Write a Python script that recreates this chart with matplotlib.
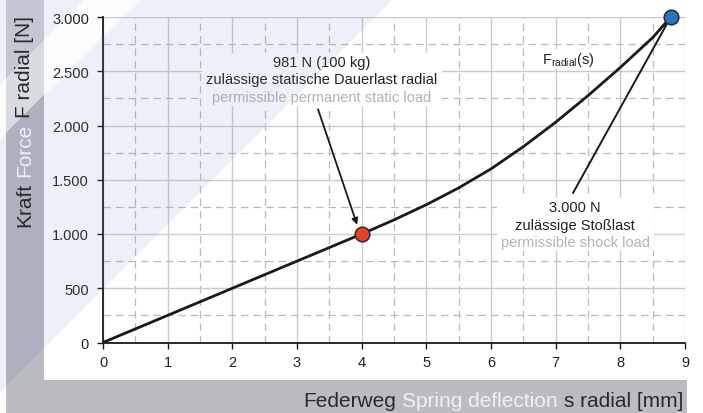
import matplotlib
matplotlib.use("Agg")
import matplotlib.pyplot as plt
from matplotlib.patches import Polygon, Rectangle
from matplotlib.path import Path
from matplotlib.transforms import Bbox
from matplotlib.ticker import FuncFormatter, MultipleLocator

plt.rcParams['font.family'] = ['Liberation Sans', 'DejaVu Sans']

# ---- data ----
s_vals = [0, 1, 2, 3, 4, 4.5, 5, 5.5, 6, 6.5, 7, 7.5, 8, 8.5, 8.78]
F_vals = [0, 250, 500, 750, 1000, 1130, 1270, 1425, 1600, 1805, 2030, 2275, 2535, 2810, 3000]
static_pt = (4.0, 1000)
shock_pt = (8.78, 3000)
x_ticks = [0, 1, 2, 3, 4, 5, 6, 7, 8, 9]
y_ticks = [0, 500, 1000, 1500, 2000, 2500, 3000]

W, H = 703, 414
fig = plt.figure(figsize=(W / 100, H / 100), dpi=100)
fig.patch.set_facecolor('white')

# ---- decorative background (pixel coordinates) ----
bg = fig.add_axes([0, 0, 1, 1], zorder=0)
bg.set_xlim(0, W)
bg.set_ylim(H, 0)
bg.axis('off')


def band(c1, c2, **kw):
    # region c1 < x + y < c2 (pixel coords)
    pts = [(c1 + 20, -20), (c2 + 20, -20), (c2 - 520, 520), (c1 - 520, 520)]
    return Polygon(pts, closed=True, lw=0, **kw)


strip_pts = [(6, 0), (44, 0), (44, 381), (687, 381), (687, 414), (6, 414)]
strip = Polygon(strip_pts, closed=True, fc='#bbbcc0', lw=0)
bg.add_patch(strip)
for c1, c2, col in [(-600, 85, '#c4c7d3'), (85, 140, '#d9dbe2'), (140, 393, '#adb0bf')]:
    p = band(c1, c2, fc=col)
    bg.add_patch(p)
    p.set_clip_path(strip)

# ---- main axes ----
ax = fig.add_axes([103 / W, 1 - 343.5 / H, 582 / W, 325.5 / H], zorder=2)
ax.set_facecolor('none')
ax.set_xlim(0, 9)
ax.set_ylim(0, 3000)
ax.set_xticks(x_ticks)
ax.set_yticks(y_ticks)
ax.xaxis.set_minor_locator(MultipleLocator(0.5))
ax.yaxis.set_minor_locator(MultipleLocator(250))
ax.yaxis.set_major_formatter(FuncFormatter(lambda v, p: f"{int(v):,}".replace(',', '.')))
ax.grid(which='major', color='#cbcbcb', lw=1.0, ls='-')
ax.grid(which='minor', color='#bababa', lw=0.9, ls=(0, (6, 4)))
ax.set_axisbelow(True)
for side in ['top', 'right']:
    ax.spines[side].set_visible(False)
for side in ['left', 'bottom']:
    ax.spines[side].set_color('#1a1a1a')
    ax.spines[side].set_linewidth(1.3)
ax.tick_params(which='major', direction='out', length=4, width=1, color='#1a1a1a',
               labelsize=10.5, labelcolor='#222222')
ax.tick_params(axis='x', which='major', pad=5)
ax.tick_params(axis='y', which='major', pad=6)
ax.tick_params(which='minor', length=0)

ax.plot(s_vals, F_vals, color='#1a1a1a', lw=2.0, solid_capstyle='round',
        solid_joinstyle='round', zorder=3)

fs = 10.5
dark = '#222222'
grey = '#b3b3b3'

blk1 = ('981 N (100 kg)', 'zulässige statische Dauerlast radial', 'permissible permanent static load')
blk2 = ('3.000 N', 'zulässige Stoßlast', 'permissible shock load')
texts1 = [
    ax.text(3.385, 2585, blk1[0], ha='center', va='center', fontsize=fs, color=dark, zorder=6),
    ax.text(3.385, 2425, blk1[1], ha='center', va='center', fontsize=fs, color=dark, zorder=6),
    ax.text(3.385, 2262, blk1[2], ha='center', va='center', fontsize=fs, color=grey, zorder=6),
]
texts2 = [
    ax.text(7.30, 1245, blk2[0], ha='center', va='center', fontsize=fs, color=dark, zorder=6),
    ax.text(7.30, 1080, blk2[1], ha='center', va='center', fontsize=fs, color=dark, zorder=6),
    ax.text(7.30, 922, blk2[2], ha='center', va='center', fontsize=fs, color=grey, zorder=6),
]
texts3 = [ax.text(6.79, 2610, r'F$_{\mathregular{radial}}$(s)', ha='left', va='center',
                  fontsize=fs, color=dark, zorder=6)]

# annotation lines
ax.annotate('', xy=(3.93, 1085), xytext=(3.325, 2150),
            arrowprops=dict(arrowstyle='-|>', mutation_scale=9, lw=1.3, color='#1a1a1a',
                            shrinkA=0, shrinkB=0), zorder=4)
ax.plot([7.27, shock_pt[0]], [1380, shock_pt[1]], color='#1a1a1a', lw=1.4, zorder=4)

ax.plot([static_pt[0]], [static_pt[1]], 'o', ms=10.5, mfc='#e8431d', mec='#2a2a2a', mew=1.1,
        zorder=5, clip_on=False)
ax.plot([shock_pt[0]], [shock_pt[1]], 'o', ms=10.5, mfc='#2474c4', mec='#2a2a2a', mew=1.1,
        zorder=5, clip_on=False)

# white backing boxes behind the text blocks (hide grid)
fig.canvas.draw()
r = fig.canvas.get_renderer()
inv = ax.transData.inverted()
for grp, padx, pady in [(texts1, 4, 2), (texts2, 4, 2), (texts3, 2, 1)]:
    bb = Bbox.union([t.get_window_extent(r) for t in grp])
    (x0, y0), (x1, y1) = inv.transform([(bb.x0 - padx, bb.y0 - pady), (bb.x1 + padx, bb.y1 + pady)])
    ax.add_patch(Rectangle((x0, y0), x1 - x0, y1 - y0, fc='white', ec='none', zorder=2.5))

# ---- translucent lavender overlay on the white panel ----
ov = fig.add_axes([0, 0, 1, 1], zorder=10)
ov.set_xlim(0, W)
ov.set_ylim(H, 0)
ov.axis('off')
ov.patch.set_alpha(0)
panel_path = Path([(44, 0), (703, 0), (703, 381), (44, 381), (44, 0),
                   (0, 0), (6, 0), (6, 414), (0, 414), (0, 0)],
                  [Path.MOVETO, Path.LINETO, Path.LINETO, Path.LINETO, Path.CLOSEPOLY,
                   Path.MOVETO, Path.LINETO, Path.LINETO, Path.LINETO, Path.CLOSEPOLY])
for c1, c2, a in [(-600, 85, 0.12), (85, 140, 0.02), (140, 393, 0.12)]:
    p = band(c1, c2, fc='#718acd', alpha=a)
    ov.add_patch(p)
    p.set_clip_path(panel_path, ov.transData)

# ---- axis labels (multi-coloured) ----
lfs = 15
ldark = '#2b2b2b'
light = '#eef0f5'
t3 = fig.text(683 / W, 1 - 407 / H, 's radial [mm]', ha='right', va='baseline', fontsize=lfs, color=ldark)
t2 = fig.text(0, 0, 'Spring deflection', fontsize=lfs, color=light)
t1 = fig.text(0, 0, 'Federweg', fontsize=lfs, color=ldark)

fig.canvas.draw()
r = fig.canvas.get_renderer()
sp = 0.278 * lfs * 100 / 72
bb3 = t3.get_window_extent(r)
t2.set_ha('right'); t2.set_va('baseline')
t2.set_position(((bb3.x0 - sp) / W, 1 - 407 / H))
bb2 = t2.get_window_extent(r)
t1.set_ha('right'); t1.set_va('baseline')
t1.set_position(((bb2.x0 - sp) / W, 1 - 407 / H))

y_parts = [('Kraft', ldark), ('Force', light), ('F radial [N]', ldark)]
ypos = 227.0
xc = 25 / W
for txt, col in y_parts:
    t = fig.text(xc, 1 - ypos / H, txt, rotation=90, ha='center', va='bottom', fontsize=lfs, color=col)
    bb = t.get_window_extent(r)
    ypos -= bb.height + sp

fig.savefig('out.png', dpi=100, facecolor=fig.get_facecolor())
